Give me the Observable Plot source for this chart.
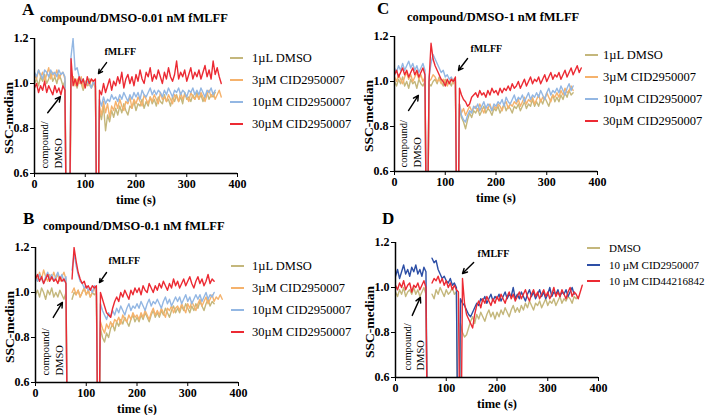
<!DOCTYPE html>
<html><head><meta charset="utf-8">
<script src="https://cdn.jsdelivr.net/npm/d3@7"></script>
<script src="https://cdn.jsdelivr.net/npm/@observablehq/plot@0.6"></script>
<style>
body{margin:0;background:#fff;}
#fig{position:relative;width:712px;height:415px;overflow:hidden;background:#fff;font-family:"Liberation Serif","Times New Roman",serif;color:#000;}
#fig svg, #fig svg text, #fig svg tspan{font-family:"Liberation Serif","Times New Roman",serif !important;}
.letter{position:absolute;font-weight:bold;font-size:17px;line-height:1;}
.title{position:absolute;font-weight:bold;font-size:12.5px;white-space:nowrap;line-height:1;}
.leg{position:absolute;white-space:nowrap;}
.leg .row{display:flex;align-items:center;}
.leg .sw{display:inline-block;height:1.6px;}
</style></head><body><div id="fig"></div><script>
// ---------- data ----------
const time = [0,4,8,12,16,20,24,28,32,36,40,44,48,52,56,60,64,68,72,76,80,84,88,92,96,100,104,108,112,116,120,124,128,132,136,140,144,148,152,156,160,164,168,172,176,180,184,188,192,196,200,204,208,212,216,220,224,228,232,236,240,244,248,252,256,260,264,268,272,276,280,284,288,292,296,300,304,308,312,316,320,324,328,332,336,340,344,348,352,356,360,364,368];
const xTicks = [0,100,200,300,400];
const yTicks = [0.6,0.8,1.0,1.2];

const namesABC = ["1µL DMSO","3µM CID2950007","10µM CID2950007","30µM CID2950007"];
const namesD = ["DMSO","10 µM CID2950007","10 µM CID44216842"];

// Panel A: compound/DMSO-0.01 nM fMLFF
const a_dmso = [1.00,1.02,0.99,1.03,1.01,1.04,1.00,1.02,1.05,1.01,
1.03,1.00,1.04,1.02,0.99,1.01,0,0,1.00,1.03,
1.01,0.98,1.02,1.00,0.97,1.01,0.99,1.02,0.98,1.00,
0.99,0,0.88,0.84,0.90,0.79,0.86,0.83,0.88,0.85,
0.89,0.86,0.90,0.87,0.91,0.88,0.86,0.90,0.89,0.92,
0.88,0.91,0.90,0.93,0.89,0.92,0.90,0.94,0.91,0.93,
0.90,0.94,0.92,0.91,0.95,0.92,0.93,0.90,0.94,0.92,
0.95,0.92,0.94,0.91,0.96,0.93,0.94,0.92,0.95,0.93,
0.96,0.93,0.95,0.92,0.94,0.96,0.93,0.95,0.94,0.96,
null,null,null];
const a_cid3 = [1.04,1.02,1.06,1.03,1.05,1.01,1.04,1.07,1.02,1.05,
1.03,1.06,1.02,1.04,1.05,1.02,0,0,1.01,1.03,
0.99,1.02,1.00,1.03,0.98,1.01,1.00,0.99,1.02,1.00,
0.98,0,0.90,0.86,0.92,0.87,0.91,0.85,0.90,0.88,
0.92,0.89,0.93,0.90,0.88,0.92,0.91,0.94,0.89,0.93,
0.91,0.94,0.92,0.90,0.95,0.93,0.91,0.94,0.92,0.95,
0.93,0.91,0.96,0.93,0.94,0.92,0.95,0.93,0.91,0.95,
0.94,0.92,0.96,0.93,0.95,0.94,0.92,0.96,0.94,0.93,
0.95,0.93,0.96,0.94,0.92,0.95,0.97,0.94,0.96,0.93,
0.95,0.97,0.94];
const a_cid10 = [1.05,1.03,1.06,1.04,1.02,1.06,1.05,1.03,1.06,1.04,
1.05,1.03,1.06,1.04,1.05,1.03,0,0,1.12,1.20,
1.06,1.07,1.03,1.01,1.02,0.99,1.01,1.00,0.98,1.01,
0.99,0,0.93,0.90,0.94,0.91,0.93,0.92,0.95,0.93,
0.94,0.92,0.95,0.93,0.96,0.94,0.92,0.95,0.93,0.96,
0.94,0.96,0.93,0.97,0.95,0.94,0.96,0.98,0.95,0.97,
0.95,0.97,0.96,0.94,0.97,0.95,0.98,0.96,0.94,0.97,
0.96,0.98,0.95,0.97,0.96,0.94,0.97,0.96,0.98,0.95,
0.97,0.95,0.98,0.96,0.94,0.97,0.96,0.98,0.95,0.97,
null,null,null];
const a_cid30 = [0.98,1.00,0.96,0.99,0.97,1.01,0.96,0.99,0.97,0.95,
0.99,0.96,0.98,0.95,0.99,0.97,0,0,1.11,0.99,
1.02,0.99,1.03,1.00,1.02,0.98,1.03,1.00,1.02,1.01,
1.02,0,0.97,0.95,1.00,0.96,0.99,1.02,0.97,1.01,
0.99,1.03,1.00,1.05,0.98,1.02,1.04,1.00,1.03,0.99,
1.04,1.01,1.06,1.02,1.00,1.05,1.03,1.07,1.01,1.04,
1.02,1.06,1.03,1.00,1.05,1.02,1.07,1.03,1.01,1.04,
1.10,1.02,1.05,1.03,1.06,1.01,1.04,1.07,1.02,1.05,
1.03,1.06,1.02,1.05,1.08,1.03,1.06,1.02,1.10,1.04,
1.07,1.03,1.00];

// Panel B: compound/DMSO-0.1 nM fMLFF
const b_dmso = [0.99,1.01,0.98,1.02,1.00,0.97,1.01,0.99,1.02,0.98,
1.00,0.98,1.01,0.99,0.97,1.00,0,null,0.97,1.00,
0.99,1.01,0.98,1.00,1.02,0.99,1.01,0.98,1.00,0.99,
1.00,0,0.84,0.80,0.78,0.82,0.80,0.84,0.86,0.83,
0.87,0.85,0.88,0.86,0.89,0.87,0.85,0.88,0.90,0.87,
0.89,0.87,0.90,0.88,0.91,0.89,0.87,0.90,0.92,0.89,
0.91,0.89,0.92,0.90,0.93,0.91,0.89,0.92,0.94,0.91,
0.93,0.91,0.94,0.92,0.95,0.93,0.91,0.94,0.92,0.95,
0.93,0.96,0.94,0.92,0.95,0.97,0.94,0.96,0.95,null,
null,null,null];
const b_cid3 = [1.08,1.05,1.09,1.06,1.10,1.07,1.05,1.08,1.06,1.09,
1.06,1.08,1.05,1.07,1.09,1.06,0,null,1.00,1.02,
0.99,1.01,0.98,1.00,1.02,0.99,1.01,0.98,1.00,1.02,
0.99,0,0.87,0.84,0.82,0.86,0.84,0.87,0.85,0.88,
0.87,0.89,0.86,0.90,0.88,0.87,0.90,0.88,0.91,0.89,
0.90,0.88,0.91,0.89,0.92,0.90,0.88,0.91,0.93,0.90,
0.92,0.90,0.93,0.91,0.89,0.93,0.92,0.94,0.91,0.93,
0.94,0.92,0.95,0.93,0.91,0.95,0.93,0.96,0.94,0.92,
0.95,0.97,0.94,0.96,0.98,0.95,0.97,0.99,0.96,0.98,
0.97,0.99,0.97];
const b_cid10 = [1.07,1.05,1.08,1.06,1.04,1.07,1.09,1.06,1.08,1.05,
1.07,1.09,1.06,1.08,1.05,1.07,0,null,1.10,1.17,
1.12,1.08,1.05,1.04,1.02,1.03,1.01,1.02,1.00,1.03,
1.01,0,0.95,0.92,0.90,0.88,0.91,0.89,0.92,0.90,
0.93,0.91,0.94,0.92,0.90,0.93,0.95,0.92,0.94,0.93,
0.95,0.93,0.96,0.94,0.92,0.95,0.97,0.94,0.96,0.95,
0.97,0.95,0.93,0.96,0.98,0.95,0.97,0.94,0.96,0.98,
0.96,0.98,0.95,0.97,0.99,0.96,0.98,0.95,0.97,0.99,
0.97,0.99,0.96,0.98,1.00,0.97,0.99,0.98,1.00,null,
null,null,null];
const b_cid30 = [1.06,1.08,1.05,1.07,1.04,1.06,1.08,1.05,1.07,1.05,
1.06,1.04,1.07,1.05,1.06,1.04,0,null,1.06,1.20,
1.14,1.09,1.06,1.04,1.05,1.02,1.03,1.01,1.03,1.02,
1.03,0,1.00,0.97,0.94,0.91,0.90,0.89,0.93,0.96,
0.98,0.96,1.00,0.98,1.01,0.99,0.97,1.01,0.99,1.02,
1.00,1.02,0.99,1.03,1.01,1.00,1.04,1.02,1.00,1.03,
1.01,1.04,1.02,1.05,1.03,1.01,1.04,1.02,1.06,1.03,
1.05,1.02,1.04,1.06,1.03,1.05,1.07,1.04,1.02,1.05,
1.07,1.04,1.06,1.03,1.05,1.08,1.04,1.06,1.05,null,
null,null,null];

// Panel C: compound/DMSO-1 nM fMLFF
const c_dmso = [1.00,0.98,1.01,0.99,1.02,0.98,1.00,0.97,1.01,0.99,
1.00,0.97,1.01,0.99,0.98,1.00,0,0.99,0.98,1.00,
1.01,0.99,1.02,1.00,0.98,1.01,0.99,1.00,0.98,1.01,
1.00,0,0.88,0.84,0.82,0.79,0.83,0.86,0.84,0.87,
0.86,0.88,0.85,0.87,0.89,0.86,0.88,0.87,0.85,0.88,
0.87,0.89,0.86,0.88,0.90,0.87,0.89,0.88,0.86,0.89,
0.88,0.90,0.87,0.89,0.91,0.88,0.90,0.89,0.92,0.89,
0.91,0.89,0.92,0.90,0.93,0.91,0.89,0.92,0.94,0.91,
0.93,0.91,0.94,0.92,0.95,0.93,0.96,0.94,0.95,null,
null,null,null];
const c_cid3 = [1.02,1.00,1.03,1.01,0.99,1.02,1.04,1.01,1.03,1.00,
1.02,1.04,1.01,1.03,1.00,1.02,0,1.00,1.01,1.03,
1.02,1.00,1.01,0.99,1.01,1.00,0.98,1.00,1.01,0.99,
1.00,0,0.90,0.86,0.88,0.85,0.87,0.89,0.87,0.88,
0.89,0.87,0.90,0.88,0.86,0.89,0.88,0.90,0.87,0.89,
0.88,0.90,0.89,0.87,0.90,0.91,0.88,0.90,0.89,0.91,
0.90,0.92,0.89,0.91,0.93,0.90,0.92,0.91,0.93,0.90,
0.92,0.94,0.91,0.93,0.92,0.95,0.93,0.91,0.94,0.93,
0.95,0.93,0.96,0.94,0.97,0.95,0.96,0.98,0.96,null,
null,null,null];
const c_cid10 = [1.06,1.04,1.07,1.05,1.08,1.05,1.07,1.09,1.06,1.08,
1.05,1.07,1.04,1.06,1.08,1.05,0,1.02,1.08,1.12,
1.10,1.08,1.06,1.04,1.05,1.02,1.03,1.01,1.02,1.00,
1.01,0,0.90,0.85,0.83,0.82,0.85,0.87,0.86,0.89,
0.88,0.90,0.87,0.89,0.91,0.88,0.90,0.89,0.87,0.90,
0.89,0.91,0.90,0.92,0.89,0.93,0.91,0.90,0.92,0.94,
0.91,0.93,0.92,0.94,0.91,0.93,0.95,0.92,0.94,0.93,
0.95,0.93,0.96,0.94,0.92,0.95,0.97,0.94,0.96,0.95,
0.97,0.95,0.98,0.96,0.94,0.97,0.99,0.96,0.98,null,
null,null,null];
const c_cid30 = [1.03,1.05,1.02,1.04,1.06,1.03,1.05,1.02,1.04,1.06,
1.03,1.05,1.02,1.04,1.06,1.03,0,1.00,1.17,1.10,
1.07,1.05,1.03,1.01,1.00,0.98,1.01,0.99,1.01,1.00,
1.02,0,0.97,0.94,0.92,0.91,0.89,0.90,0.93,0.94,
0.95,0.93,0.96,0.94,0.95,0.93,0.96,0.94,0.97,0.95,
0.96,0.94,0.97,0.95,0.97,0.96,0.98,0.96,0.99,0.97,
0.98,1.00,0.97,0.99,1.01,0.98,1.00,1.02,0.99,1.01,
1.00,1.02,0.99,1.01,1.03,1.00,1.02,1.04,1.01,1.03,
1.02,1.04,1.01,1.03,1.05,1.02,1.04,1.06,1.03,1.05,
1.07,1.04,1.06];

// Panel D
const d_dmso = [0.98,0.96,0.99,0.97,1.00,0.96,0.98,0.99,0.97,1.00,
0.97,0.99,0.96,0.98,1.00,0.97,0,null,0.97,0.95,
0.99,0.97,1.00,0.98,0.96,0.99,0.97,0.98,1.00,0.97,
0.98,0,0.84,0.80,0.78,0.79,0.82,0.85,0.87,0.84,
0.88,0.86,0.89,0.87,0.85,0.88,0.90,0.87,0.89,0.86,
0.89,0.87,0.90,0.88,0.91,0.89,0.87,0.90,0.92,0.89,
0.91,0.89,0.92,0.90,0.93,0.91,0.94,0.92,0.90,0.93,
0.92,0.94,0.91,0.93,0.95,0.92,0.94,0.93,0.95,0.92,
0.94,0.96,0.93,0.95,0.94,0.96,0.95,0.93,0.96,0.95,
0.96,null,null];
const d_cid2950007 = [1.05,1.08,1.04,1.07,1.10,1.06,1.08,1.05,1.09,1.07,
1.10,1.06,1.08,1.05,1.09,1.07,0,null,1.13,1.11,
1.12,1.08,1.06,1.04,1.05,1.03,1.02,1.04,1.01,1.02,
1.00,0,0.95,0.93,0.92,0.90,0.88,0.87,0.89,0.91,
0.93,0.92,0.95,0.94,0.96,0.93,0.95,0.97,0.94,0.96,
0.95,0.97,0.94,0.96,0.98,0.95,0.97,0.96,1.00,0.95,
0.97,0.95,0.98,0.96,0.94,0.97,0.99,0.96,0.98,0.95,
0.97,0.99,0.96,0.98,0.95,0.97,1.00,0.96,0.98,0.97,
0.99,0.96,0.98,0.97,0.99,0.96,0.98,1.00,0.97,null,
null,null,null];
const d_cid44216842 = [1.01,0.99,1.02,1.00,1.03,0.99,1.01,1.02,0.98,1.01,
1.00,1.02,0.99,1.01,1.03,1.00,0,null,1.02,1.04,
1.03,1.05,1.02,1.04,1.01,1.03,1.00,1.02,0.99,1.01,
0.99,0.98,0,1.04,0.93,0.88,0.86,0.84,0.82,0.88,
0.92,0.94,0.91,0.95,0.93,0.96,0.94,0.92,0.95,0.93,
0.96,0.94,0.97,0.95,0.93,0.96,0.98,0.95,0.97,0.94,
0.96,0.98,0.95,0.97,0.99,0.96,0.94,0.97,0.99,0.96,
0.98,0.95,0.97,0.99,0.96,0.98,0.95,0.97,1.00,0.96,
0.98,0.96,0.99,0.97,0.95,0.98,1.00,0.96,0.98,0.97,
0.95,0.98,1.01];

// annotation anchors (data units: time s, SSC-median)
const arrowsA = [{x1:26,y1:0.87,x2:51,y2:0.942},{x1:142,y1:1.093,x2:126,y2:1.044}];
const arrowsB = [{x1:35,y1:0.889,x2:53,y2:0.956},{x1:140,y1:1.089,x2:126,y2:1.044}];
const arrowsC = [{x1:27.6,y1:0.871,x2:47,y2:0.938},{x1:144,y1:1.102,x2:126,y2:1.049}];
const arrowsD = [{x1:33,y1:0.876,x2:49,y2:0.956},{x1:154,y1:1.111,x2:132,y2:1.062}];
const fLabelA = {x:169,y:1.14}, fLabelB = {x:175,y:1.142}, fLabelC = {x:181,y:1.147}, fLabelD = {x:193,y:1.151};
const cLabelA = {x:31.5,y:0.622}, cLabelB = {x:31.5,y:0.631}, cLabelC = {x:29.5,y:0.618}, cLabelD = {x:35,y:0.631};
const xLabel = {text:"time (s)", x:200, y:0.6};
const yLabel = {text:"SSC-median", x:0, y:0.9};

// ---------- styling / layout ----------
const colorsABC = ["#c4b77c","#f5b26c","#93b7e3","#ec2a33"];
const colorsD = ["#c4b77c","#2d4fa6","#ec2a33"];
const serif = '"Liberation Serif", "Times New Roman", serif';

const panels = [
  {letter:"A", title:"compound/DMSO-0.01 nM fMLFF", series:[a_dmso,a_cid3,a_cid10,a_cid30], names:namesABC, colors:colorsABC,
   arrows:arrowsA, fl:fLabelA, cl:cLabelA, left:0, top:28, letterPos:[22,1], titlePos:[40,12],
   leg:{left:230, text:252, top:47, row:22, size:12.5}},
  {letter:"B", title:"compound/DMSO-0.1 nM fMLFF", series:[b_dmso,b_cid3,b_cid10,b_cid30], names:namesABC, colors:colorsABC,
   arrows:arrowsB, fl:fLabelB, cl:cLabelB, left:1, top:237, letterPos:[23,210], titlePos:[43,220],
   leg:{left:231, text:252, top:255, row:22, size:12.5}},
  {letter:"C", title:"compound/DMSO-1 nM fMLFF", series:[c_dmso,c_cid3,c_cid10,c_cid30], names:namesABC, colors:colorsABC,
   arrows:arrowsC, fl:fLabelC, cl:cLabelC, left:360, top:26, letterPos:[377,0], titlePos:[407,11],
   leg:{left:585, text:603, top:44, row:22, size:12.5}},
  {letter:"D", title:null, series:[d_dmso,d_cid2950007,d_cid44216842], names:namesD, colors:colorsD,
   arrows:arrowsD, fl:fLabelD, cl:cLabelD, left:361, top:232, letterPos:[382,210], titlePos:null,
   leg:{left:587, text:609, top:240, row:16.5, size:11}}
];

const fig = document.getElementById("fig");

for (const p of panels) {
  const marks = [];
  p.series.forEach((vals, k) => {
    const rows = time.map((t, i) => ({t, v: vals[i] === undefined ? null : vals[i]}));
    marks.push(Plot.line(rows, {x:"t", y:"v", stroke:p.colors[k], strokeWidth:1.4, clip:true}));
  });
  marks.push(Plot.ruleX([0], {strokeWidth:1.5}));
  marks.push(Plot.ruleY([0.6], {strokeWidth:1.5}));
  marks.push(Plot.arrow(p.arrows, {x1:"x1", y1:"y1", x2:"x2", y2:"y2", strokeWidth:1.4, headLength:6, headAngle:55}));
  marks.push(Plot.text([p.fl], {x:"x", y:"y", text:() => "fMLFF", fontWeight:"bold", fontSize:10, fontFamily:serif}));
  marks.push(Plot.text([p.cl], {x:"x", y:"y", text:() => "compound/\nDMSO", rotate:-90, textAnchor:"start", fontSize:10.5, fontWeight:"normal", lineHeight:1.3, fontFamily:serif}));
  marks.push(Plot.text([xLabel], {x:"x", y:"y", text:"text", dy:26, fontSize:12.5, fontWeight:"bold", fontFamily:serif}));
  marks.push(Plot.text([yLabel], {x:"x", y:"y", text:"text", rotate:-90, dx:-26, dy:12, fontSize:13.5, fontWeight:"bold", fontFamily:serif}));

  const chart = Plot.plot({
    width:250, height:180, marginLeft:34, marginRight:13, marginTop:10, marginBottom:35,
    x:{domain:[0,400], ticks:xTicks, tickSize:4, tickPadding:2, label:null},
    y:{domain:[0.6,1.2], ticks:yTicks, tickSize:4, tickPadding:2, tickFormat:d => d.toFixed(1), label:null},
    style:{fontFamily:serif, fontSize:"12px", fontWeight:"bold", background:"transparent", overflow:"visible"},
    marks
  });
  chart.style.position = "absolute";
  chart.style.left = p.left + "px";
  chart.style.top = p.top + "px";
  fig.appendChild(chart);

  const L = document.createElement("div");
  L.className = "letter"; L.textContent = p.letter;
  L.style.left = p.letterPos[0] + "px"; L.style.top = p.letterPos[1] + "px";
  fig.appendChild(L);

  if (p.title) {
    const T = document.createElement("div");
    T.className = "title"; T.textContent = p.title;
    T.style.left = p.titlePos[0] + "px"; T.style.top = p.titlePos[1] + "px";
    fig.appendChild(T);
  }

  const leg = document.createElement("div");
  leg.className = "leg";
  leg.style.left = p.leg.left + "px"; leg.style.top = p.leg.top + "px";
  leg.style.fontSize = p.leg.size + "px";
  p.names.forEach((n, k) => {
    const r = document.createElement("div");
    r.className = "row"; r.style.height = p.leg.row + "px";
    const sw = document.createElement("span");
    sw.className = "sw"; sw.style.background = p.colors[k];
    sw.style.width = "13px"; sw.style.marginRight = (p.leg.text - p.leg.left - 13) + "px";
    const tx = document.createElement("span"); tx.textContent = n;
    r.appendChild(sw); r.appendChild(tx); leg.appendChild(r);
  });
  fig.appendChild(leg);
}
</script></body></html>
